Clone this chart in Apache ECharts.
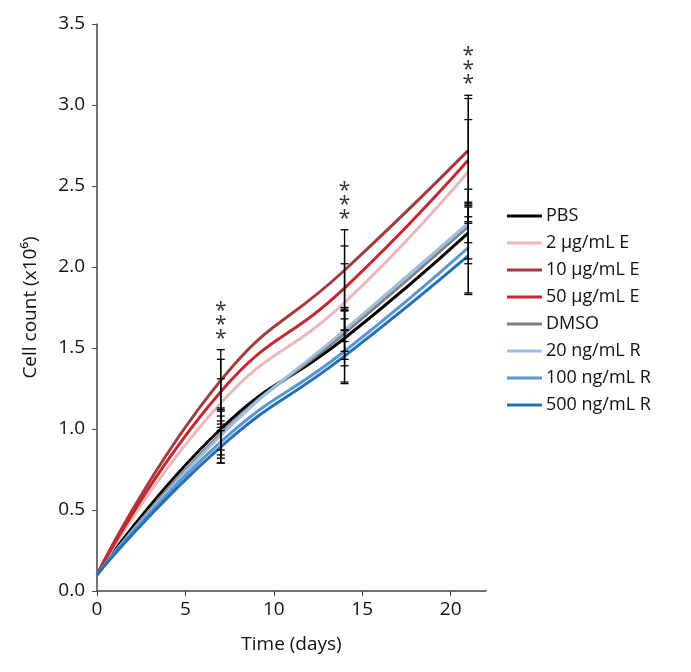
<!DOCTYPE html>
<html>
<head>
<meta charset="utf-8">
<script src="https://cdn.jsdelivr.net/npm/echarts@6/dist/echarts.min.js"></script>
<style>html,body{margin:0;padding:0;background:#fff}#c{width:691px;height:672px}</style>
</head>
<body>
<div id="c"></div>
<script>
const days = [0, 7, 14, 21];
const xTicks = [0, 5, 10, 15, 20];
const yTicks = [0, 0.5, 1, 1.5, 2, 2.5, 3, 3.5];
const names = ['PBS', '2 µg/mL E', '10 µg/mL E', '50 µg/mL E', 'DMSO', '20 ng/mL R', '100 ng/mL R', '500 ng/mL R'];
const pbs    = [0.1, 1.00, 1.56, 2.21];
const e2     = [0.1, 1.16, 1.78, 2.59];
const e10    = [0.1, 1.30, 1.98, 2.72];
const e50    = [0.1, 1.23, 1.87, 2.66];
const dmso   = [0.1, 0.97, 1.59, 2.25];
const r20    = [0.1, 0.96, 1.61, 2.27];
const r100   = [0.1, 0.92, 1.48, 2.12];
const r500   = [0.1, 0.89, 1.45, 2.07];
const pbsSD  = [0, 0.13, 0.17, 0.16];
const e2SD   = [0, 0.15, 0.24, 0.32];
const e10SD  = [0, 0.19, 0.25, 0.34];
const e50SD  = [0, 0.20, 0.26, 0.38];
const dmsoSD = [0, 0.15, 0.16, 0.23];
const r20SD  = [0, 0.12, 0.13, 0.12];
const r100SD = [0, 0.13, 0.20, 0.28];
const r500SD = [0, 0.10, 0.16, 0.24];
const starDays = [7, 14, 21];
const starText = '*\n*\n*';

const colors = ['#000000', '#ebb8bb', '#a13c3f', '#c82630', '#808080', '#9dbde2', '#5a96d2', '#2372b6'];
const allMeans = [pbs, e2, e10, e50, dmso, r20, r100, r500];
const allSD = [pbsSD, e2SD, e10SD, e50SD, dmsoSD, r20SD, r100SD, r500SD];
const FONT = '"Open Sans", "Noto Sans", sans-serif';

const lineSeries = names.map((n, i) => ({
  name: n, type: 'line', smooth: 0.5, symbol: 'none',
  data: days.map((d, j) => [d, allMeans[i][j]]),
  lineStyle: { color: colors[i], width: 3 },
  itemStyle: { color: colors[i] },
  z: 2
}));

const errData = [];
allMeans.forEach((m, i) => {
  days.forEach((d, j) => {
    if (allSD[i][j] > 0) errData.push([d, m[j] - allSD[i][j], m[j] + allSD[i][j]]);
  });
});

const starData = starDays.map(d => {
  const j = days.indexOf(d);
  let top = -Infinity;
  allMeans.forEach((m, i) => { top = Math.max(top, m[j] + allSD[i][j]); });
  return [d, top];
});

const chart = echarts.init(document.getElementById('c'));
chart.setOption({
  animation: false,
  grid: { left: 97, right: 205, top: 24, bottom: 81 },
  legend: {
    orient: 'vertical', left: 502, top: 202,
    data: names, icon: 'rect', itemWidth: 35, itemHeight: 3, itemGap: 9,
    textStyle: { fontFamily: FONT, fontSize: 18, color: '#111', padding: [0, 0, 0, -1] }
  },
  xAxis: {
    type: 'value', min: 0, max: 22, interval: 5,
    name: 'Time (days)', nameLocation: 'middle', nameGap: 44,
    nameTextStyle: { fontFamily: FONT, fontSize: 19, color: '#111' },
    axisLine: { show: true, lineStyle: { color: '#444', width: 1.5 } },
    axisTick: { show: true, length: 5, lineStyle: { color: '#444' }, customValues: xTicks },
    axisLabel: { fontFamily: FONT, fontSize: 19, color: '#111', margin: 9,
      customValues: xTicks },
    splitLine: { show: false }
  },
  yAxis: {
    type: 'value', min: 0, max: 3.5, interval: 0.5,
    name: 'Cell count (x10⁶)', nameLocation: 'middle', nameGap: 57,
    nameTextStyle: { fontFamily: FONT, fontSize: 19, color: '#111' },
    axisLine: { show: true, lineStyle: { color: '#444', width: 1.5 } },
    axisTick: { show: true, length: 5, lineStyle: { color: '#444' } },
    axisLabel: { fontFamily: FONT, fontSize: 19, color: '#111', margin: 12,
      formatter: v => v.toFixed(1) },
    splitLine: { show: false }
  },
  series: lineSeries.concat([
    {
      type: 'custom', name: 'err', z: 5, silent: true,
      data: errData,
      renderItem: (params, api) => {
        const x = api.value(0);
        const lo = api.coord([x, api.value(1)]);
        const hi = api.coord([x, api.value(2)]);
        const w = 4;
        const st = { stroke: '#000', lineWidth: 1.3 };
        return { type: 'group', children: [
          { type: 'line', shape: { x1: lo[0], y1: lo[1], x2: hi[0], y2: hi[1] }, style: st },
          { type: 'line', shape: { x1: lo[0] - w, y1: lo[1], x2: lo[0] + w, y2: lo[1] }, style: st },
          { type: 'line', shape: { x1: hi[0] - w, y1: hi[1], x2: hi[0] + w, y2: hi[1] }, style: st }
        ]};
      }
    },
    {
      type: 'scatter', name: 'stars', symbolSize: 0, silent: true, z: 6,
      data: starData,
      label: { show: true, position: 'top', distance: 4, formatter: () => starText,
        fontFamily: FONT, fontSize: 21, lineHeight: 14, color: '#000' }
    }
  ])
});
</script>
</body>
</html>
